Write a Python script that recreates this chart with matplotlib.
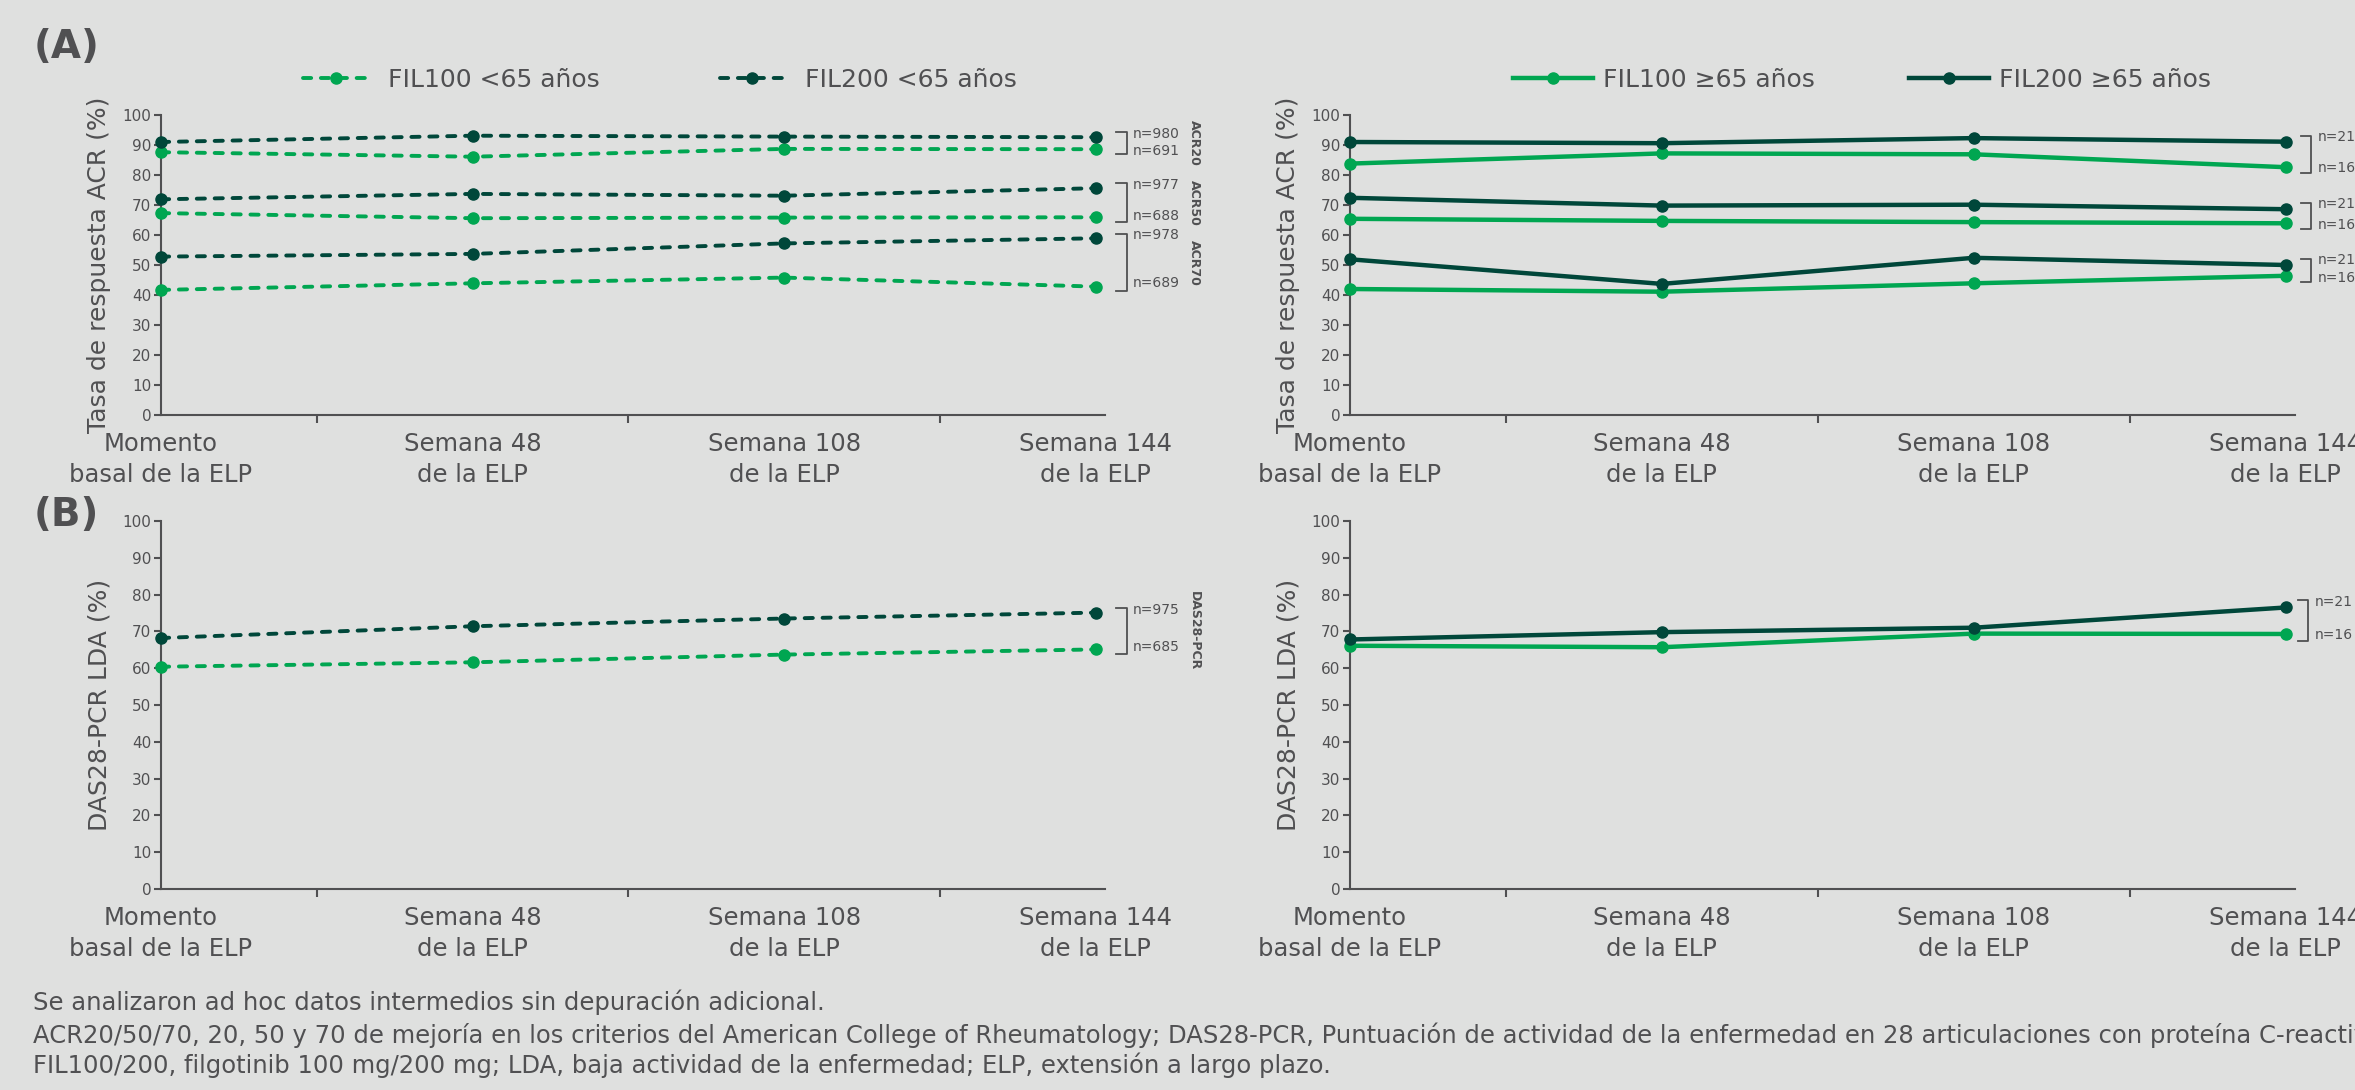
import matplotlib
matplotlib.use("Agg")
import matplotlib.pyplot as plt
import matplotlib.transforms as mtransforms

# colours
BG = '#dfe0df'
DARK = '#00473a'
LIGHT = '#00a651'
GREY = '#505052'

# data
cats = ['Momento\nbasal de la ELP', 'Semana 48\nde la ELP',
        'Semana 108\nde la ELP', 'Semana 144\nde la ELP']
x = [0, 1, 2, 3]

# (A) ACR, <65 anos
fil100_acr20_lt65 = [87.6, 86.1, 88.7, 88.6]
fil200_acr20_lt65 = [91.0, 93.1, 92.8, 92.6]
fil100_acr50_lt65 = [67.3, 65.6, 65.8, 65.9]
fil200_acr50_lt65 = [71.9, 73.7, 73.1, 75.6]
fil100_acr70_lt65 = [41.7, 43.9, 45.8, 42.8]
fil200_acr70_lt65 = [52.8, 53.7, 57.2, 58.9]
n_fil200_lt65 = ['n=980', 'n=977', 'n=978']
n_fil100_lt65 = ['n=691', 'n=688', 'n=689']

# (A) ACR, >=65 anos
fil100_acr20_ge65 = [83.8, 87.2, 86.9, 82.6]
fil200_acr20_ge65 = [91.0, 90.6, 92.3, 91.1]
fil100_acr50_ge65 = [65.4, 64.7, 64.3, 63.9]
fil200_acr50_ge65 = [72.4, 69.8, 70.1, 68.6]
fil100_acr70_ge65 = [42.0, 41.1, 43.9, 46.4]
fil200_acr70_ge65 = [51.9, 43.7, 52.4, 50.0]
n_fil200_ge65 = ['n=21', 'n=21', 'n=21']
n_fil100_ge65 = ['n=16', 'n=16', 'n=16']

# (B) DAS28-PCR LDA
fil100_das_lt65 = [60.4, 61.6, 63.7, 65.1]
fil200_das_lt65 = [68.2, 71.4, 73.5, 75.1]
fil100_das_ge65 = [66.1, 65.7, 69.4, 69.3]
fil200_das_ge65 = [67.8, 69.8, 71.0, 76.5]

acr_names = ['ACR20', 'ACR50', 'ACR70']

footnotes = [
    'Se analizaron ad hoc datos intermedios sin depuración adicional.',
    'ACR20/50/70, 20, 50 y 70 de mejoría en los criterios del American College of Rheumatology; '
    'DAS28-PCR, Puntuación de actividad de la enfermedad en 28 articulaciones con proteína C-reactiva.',
    'FIL100/200, filgotinib 100 mg/200 mg; LDA, baja actividad de la enfermedad; ELP, extensión a largo plazo.',
]

W, H = 2355, 1090
fig = plt.figure(figsize=(W / 100, H / 100), dpi=100, facecolor=BG)


def px_axes(left, top, right, bottom):
    return fig.add_axes([left / W, 1 - bottom / H, (right - left) / W, (bottom - top) / H])


def style(ax, ylabel):
    ax.set_facecolor(BG)
    ax.set_xlim(0, 3.03)
    ax.set_ylim(0, 100)
    for s in ['top', 'right']:
        ax.spines[s].set_visible(False)
    for s in ['left', 'bottom']:
        ax.spines[s].set_color(GREY)
        ax.spines[s].set_linewidth(1.5)
    ax.set_yticks(range(0, 101, 10))
    ax.tick_params(axis='y', length=5, width=1.5, color=GREY, labelsize=11,
                   labelcolor=GREY, pad=2)
    ax.set_xticks(x)
    ax.set_xticklabels(cats, fontsize=17.5, color=GREY, linespacing=1.4)
    ax.tick_params(axis='x', which='major', length=0, pad=12)
    ax.set_xticks([0.5, 1.5, 2.5], minor=True)
    ax.tick_params(axis='x', which='minor', length=6, width=1.5, color=GREY)
    ax.set_ylabel(ylabel, fontsize=18, color=GREY, labelpad=8)


def dashed(ax, vals, color):
    return ax.plot(x, vals, color=color, lw=2.8, dashes=(2.1, 2.5),
                   dash_capstyle='round', marker='o', ms=8,
                   clip_on=False, zorder=3)[0]


def solid(ax, vals, color):
    return ax.plot(x, vals, color=color, lw=3.2, marker='o', ms=8,
                   clip_on=False, zorder=3)[0]


def bracket(ax, hi, lo, x0, x1, tx, lab_hi, lab_lo, pad, group=None):
    tr = mtransforms.blended_transform_factory(ax.transAxes, ax.transData)
    top = hi + pad
    bot = lo - pad
    ax.plot([x0, x1, x1, x0], [top, top, bot, bot], transform=tr,
            color=GREY, lw=1.3, clip_on=False)
    ax.text(tx, top - 0.4, lab_hi, transform=tr, va='center', ha='left',
            fontsize=10, color=GREY)
    ax.text(tx, bot + 0.15 * (top - bot), lab_lo, transform=tr, va='center',
            ha='left', fontsize=10, color=GREY)
    if group:
        ax.text(1.095, (top + bot) / 2, group, transform=tr, rotation=-90,
                va='center', ha='center', fontsize=9, fontweight='bold',
                color=GREY)


ax_tl = px_axes(161, 115, 1105, 415)
ax_tr = px_axes(1350, 115, 2295, 415)
ax_bl = px_axes(161, 521, 1105, 889)
ax_br = px_axes(1350, 521, 2295, 889)

style(ax_tl, 'Tasa de respuesta ACR (%)')
style(ax_tr, 'Tasa de respuesta ACR (%)')
style(ax_bl, 'DAS28-PCR LDA (%)')
style(ax_br, 'DAS28-PCR LDA (%)')

# top left
lt100 = [fil100_acr20_lt65, fil100_acr50_lt65, fil100_acr70_lt65]
lt200 = [fil200_acr20_lt65, fil200_acr50_lt65, fil200_acr70_lt65]
for i in range(3):
    h100 = dashed(ax_tl, lt100[i], LIGHT)
    h200 = dashed(ax_tl, lt200[i], DARK)
    bracket(ax_tl, lt200[i][-1], lt100[i][-1], 1.0117, 1.0233, 1.0297,
            n_fil200_lt65[i], n_fil100_lt65[i], 1.6, acr_names[i])
fig.legend([h100, h200], ['FIL100 <65 años', 'FIL200 <65 años'], loc='center',
           bbox_to_anchor=(660 / W, 1 - 80 / H), ncol=2, frameon=False,
           fontsize=18, labelcolor=GREY, handlelength=2.6, handletextpad=0.8,
           columnspacing=4.8)

# top right
ge100 = [fil100_acr20_ge65, fil100_acr50_ge65, fil100_acr70_ge65]
ge200 = [fil200_acr20_ge65, fil200_acr50_ge65, fil200_acr70_ge65]
for i in range(3):
    g100 = solid(ax_tr, ge100[i], LIGHT)
    g200 = solid(ax_tr, ge200[i], DARK)
    bracket(ax_tr, ge200[i][-1], ge100[i][-1], 1.0063, 1.0169, 1.0243,
            n_fil200_ge65[i], n_fil100_ge65[i], 2.0)
fig.legend([g100, g200], ['FIL100 ≥65 años', 'FIL200 ≥65 años'], loc='center',
           bbox_to_anchor=(1862 / W, 1 - 80 / H), ncol=2, frameon=False,
           fontsize=18, labelcolor=GREY, handlelength=3.2, handletextpad=0.4,
           columnspacing=3.8)

# bottom left
dashed(ax_bl, fil100_das_lt65, LIGHT)
dashed(ax_bl, fil200_das_lt65, DARK)
bracket(ax_bl, fil200_das_lt65[-1], fil100_das_lt65[-1], 1.0117, 1.0233, 1.0297,
        'n=975', 'n=685', 1.2, 'DAS28-PCR')

# bottom right
solid(ax_br, fil100_das_ge65, LIGHT)
solid(ax_br, fil200_das_ge65, DARK)
bracket(ax_br, fil200_das_ge65[-1], fil100_das_ge65[-1], 1.0032, 1.0138, 1.0212,
        'n=21', 'n=16', 2.0)

fig.text(34 / W, 1 - 47 / H, '(A)', fontsize=28, fontweight='bold', color=GREY,
         va='center', ha='left')
fig.text(34 / W, 1 - 515 / H, '(B)', fontsize=28, fontweight='bold', color=GREY,
         va='center', ha='left')

for yy, line in zip([1002, 1035, 1065], footnotes):
    fig.text(33 / W, 1 - yy / H, line, fontsize=17.5, color=GREY, va='center', ha='left')

fig.savefig('out.png', dpi=100, facecolor=BG)
